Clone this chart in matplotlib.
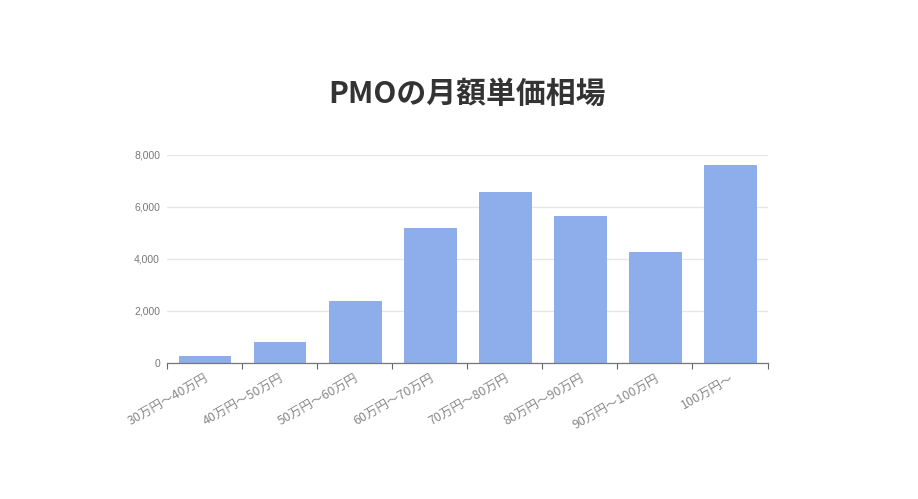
import matplotlib
matplotlib.use("Agg")
import numpy as np
import matplotlib.pyplot as plt

plt.rcParams['font.family'] = ['Noto Sans CJK JP', 'DejaVu Sans']

# price ranges and number of listings
categories = ["30万円〜40万円", "40万円〜50万円", "50万円〜60万円", "60万円〜70万円",
              "70万円〜80万円", "80万円〜90万円", "90万円〜100万円", "100万円〜"]
counts = [240, 790, 2380, 5200, 6570, 5650, 4250, 7600]
yticks = [0, 2000, 4000, 6000, 8000]

fig = plt.figure(figsize=(9.18, 4.99), dpi=100)
ax = fig.add_axes([0.1819, 0.2735, 0.6542, 0.4159])

x = np.arange(len(categories))
ax.bar(x, counts, width=0.69, color="#8eadeb", edgecolor="#86a6ea", linewidth=0.6, zorder=2)

ax.set_xlim(-0.5, len(categories) - 0.5)
ax.set_ylim(0, 8000)
ax.set_yticks(yticks)
ax.set_yticklabels([f"{v:,}" for v in yticks], family=['Liberation Sans', 'Noto Sans CJK JP'])
ax.yaxis.grid(True, color="#e6e6e6", linewidth=0.9, zorder=0)
ax.tick_params(axis="y", length=0, pad=5, labelsize=7.5, labelcolor="#777777")

# ticks sit on category edges, labels at category centres
ax.set_xticks(np.arange(len(categories) + 1) - 0.5)
ax.set_xticklabels([])
ax.set_xticks(x, minor=True)
ax.set_xticklabels(categories, minor=True, rotation=30, ha="right",
                   rotation_mode="anchor", fontsize=9, color="#888888")
ax.tick_params(axis="x", which="major", length=4, color="#666666")
ax.tick_params(axis="x", which="minor", length=0, pad=7)

for side in ["top", "right", "left"]:
    ax.spines[side].set_visible(False)
ax.spines["bottom"].set_color("#777777")
ax.spines["bottom"].set_linewidth(0.9)

fig.text(0.509, 0.812, "PMOの月額単価相場", ha="center", va="center",
         fontsize=21.5, fontweight="bold", color="#333333")

fig.savefig("out.png", dpi=100)
